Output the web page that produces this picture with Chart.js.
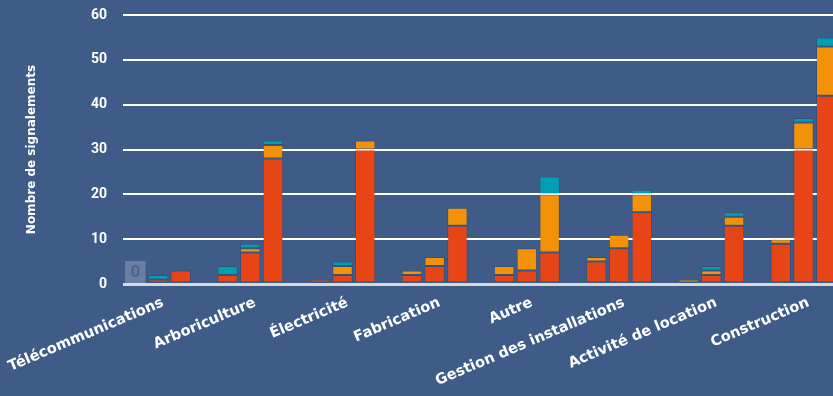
<!DOCTYPE html>
<html lang="fr">
<head>
<meta charset="utf-8">
<title>Nombre de signalements par secteur</title>
<script src="https://cdn.jsdelivr.net/npm/chart.js@4/dist/chart.umd.min.js"></script>
<style>
  html, body { margin: 0; padding: 0; background: #3e5c87; }
  #wrap { width: 833px; height: 396px; overflow: hidden; }
  canvas { display: block; }
</style>
</head>
<body>
<div id="wrap"><canvas id="chart" width="833" height="396"></canvas></div>
<script>
// Secteurs d'activité (axe horizontal)
const categories = [
  'Télécommunications', 'Arboriculture', 'Électricité', 'Fabrication',
  'Autre', 'Gestion des installations', 'Activité de location', 'Construction'
];

// Trois périodes par secteur, chacune empilée en trois niveaux
const periods = ['Période 1', 'Période 2', 'Période 3'];
const levels = ['Niveau 1', 'Niveau 2', 'Niveau 3'];
const levelColors = ['#e84516', '#f39208', '#00a0b4'];

// Période 1
const p1Level1 = [0, 2, 1, 2, 2, 5, 0, 9];
const p1Level2 = [0, 0, 0, 1, 2, 1, 1, 1];
const p1Level3 = [0, 2, 0, 0, 0, 0, 0, 0];
// Période 2
const p2Level1 = [1, 7, 2, 4, 3, 8, 2, 30];
const p2Level2 = [0, 1, 2, 2, 5, 3, 1, 6];
const p2Level3 = [1, 1, 1, 0, 0, 0, 1, 1];
// Période 3
const p3Level1 = [3, 28, 30, 13, 7, 16, 13, 42];
const p3Level2 = [0, 3, 2, 4, 13, 4, 2, 11];
const p3Level3 = [0, 1, 0, 0, 4, 1, 1, 2];

const seriesByPeriod = [
  [p1Level1, p1Level2, p1Level3],
  [p2Level1, p2Level2, p2Level3],
  [p3Level1, p3Level2, p3Level3]
];

// Graduations de l'axe vertical
const yTicks = [0, 10, 20, 30, 40, 50, 60];

const datasets = [];
seriesByPeriod.forEach((series, p) => {
  series.forEach((values, l) => {
    datasets.push({
      label: periods[p] + ' – ' + levels[l],
      stack: periods[p],
      data: values.map((v, i) => ({ x: i, y: v })),
      backgroundColor: levelColors[l],
      borderColor: 'rgba(0,0,0,0.12)',
      borderWidth: 1,
      borderSkipped: false
    });
  });
});

// Étiquette « 0 » sur les barres sans aucun signalement
const zeroLabels = {
  id: 'zeroLabels',
  afterDatasetsDraw(chart) {
    const ctx = chart.ctx;
    const y0 = chart.scales.y.getPixelForValue(0);
    seriesByPeriod.forEach((series, p) => {
      categories.forEach((c, i) => {
        const total = series.reduce((s, arr) => s + arr[i], 0);
        if (total !== 0) return;
        const el = chart.getDatasetMeta(p * levels.length).data[i];
        const w = el.width;
        const h = 22;
        ctx.save();
        ctx.fillStyle = 'rgba(255,255,255,0.22)';
        ctx.fillRect(el.x - w / 2, y0 - 1 - h, w, h);
        ctx.fillStyle = '#4a6390';
        ctx.font = 'bold 17px Roboto';
        ctx.textAlign = 'center';
        ctx.textBaseline = 'middle';
        ctx.fillText(String(total), el.x, y0 - 1 - h / 2 + 1);
        ctx.restore();
      });
    });
  }
};

new Chart(document.getElementById('chart'), {
  type: 'bar',
  data: { datasets },
  plugins: [zeroLabels],
  options: {
    responsive: false,
    animation: false,
    events: [],
    layout: { padding: { top: 15, left: 0, right: 0, bottom: 0 } },
    categoryPercentage: 0.74,
    barPercentage: 0.9,
    plugins: { legend: { display: false }, tooltip: { enabled: false } },
    scales: {
      x: {
        type: 'linear',
        stacked: true,
        bounds: 'data',
        offset: false,
        min: -0.38,
        max: 7.32,
        grid: { display: false },
        border: { display: false },
        afterBuildTicks: s => { s.ticks = categories.map((c, i) => ({ value: i })); },
        ticks: {
          autoSkip: false,
          minRotation: 23,
          maxRotation: 23,
          padding: 2,
          labelOffset: 5,
          color: '#ffffff',
          font: { family: 'DejaVu Sans', weight: 'bold', size: 14.6 },
          callback: v => categories[v]
        },
        afterFit: s => {
          s.height = 112;
          s.paddingLeft = 0; s.paddingRight = 0; s.paddingTop = 0; s.paddingBottom = 0;
        }
      },
      y: {
        stacked: true,
        min: 0,
        max: 60,
        border: { display: false },
        afterBuildTicks: s => { s.ticks = yTicks.map(v => ({ value: v })); },
        grid: {
          drawTicks: false,
          color: c => c.tick && c.tick.value === 0 ? '#d9d9d9' : '#ffffff',
          lineWidth: c => c.tick && c.tick.value === 0 ? 3 : 2
        },
        ticks: {
          padding: 16,
          color: '#ffffff',
          font: { family: 'Roboto', weight: 'bold', size: 14 }
        },
        title: {
          display: true,
          text: 'Nombre de signalements',
          color: '#ffffff',
          font: { family: 'DejaVu Sans', weight: 'bold', size: 12 },
          padding: { top: 25, bottom: 0 }
        },
        afterFit: s => {
          s.width = 123;
          s.paddingLeft = 0; s.paddingRight = 0; s.paddingTop = 0; s.paddingBottom = 0;
        }
      }
    }
  }
});
</script>
</body>
</html>
